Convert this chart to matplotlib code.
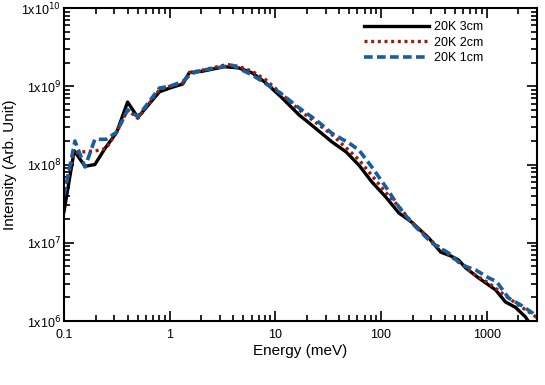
import numpy as np
import matplotlib.pyplot as plt
from matplotlib.ticker import FixedLocator, LogLocator, NullFormatter

plt.rcParams['font.family'] = ['Liberation Sans', 'DejaVu Sans']

# 20K 3cm
e_3cm = [0.1, 0.125, 0.158, 0.196, 0.244, 0.316, 0.4, 0.5, 0.8, 1.0, 1.33, 1.54,
         2.0, 3.3, 4.5, 6.07, 8.2, 11.6, 16.8, 20.9, 34.5, 46.8, 62, 82, 111, 148,
         195, 284, 368, 457, 545, 631, 841, 1216, 1510, 1870, 2330, 2500, 2800]
i_3cm = [2.5e7, 1.5e8, 9.5e7, 1.0e8, 1.6e8, 2.6e8, 6.3e8, 4.0e8, 8.5e8, 9.5e8, 1.07e9, 1.5e9,
         1.55e9, 1.78e9, 1.72e9, 1.48e9, 1.1e9, 7.1e8, 4.3e8, 3.4e8, 1.94e8, 1.45e8, 9.8e7, 6.0e7, 3.85e7, 2.4e7,
         1.84e7, 1.15e7, 7.6e6, 6.8e6, 6.0e6, 4.8e6, 3.55e6, 2.5e6, 1.75e6, 1.5e6, 1.13e6, 9.8e5, 7e5]

# 20K 2cm
e_2cm = [0.1, 0.125, 0.15, 0.2, 0.25, 0.316, 0.4, 0.5, 0.8, 1.0, 1.33, 1.54,
         2.0, 3.5, 4.5, 6.07, 8.2, 16.8, 34.5, 62, 111, 148, 195, 302, 408, 470,
         630, 725, 1050, 1510, 2000, 2760, 3000]
i_2cm = [4.7e7, 1.4e8, 1.45e8, 1.5e8, 1.6e8, 2.6e8, 5.0e8, 3.9e8, 9.0e8, 1.0e9, 1.1e9, 1.5e9,
         1.6e9, 1.9e9, 1.8e9, 1.55e9, 1.2e9, 5.0e8, 2.4e8, 1.15e8, 4.4e7, 2.9e7,
         1.85e7, 1.05e7, 7.6e6, 6.5e6, 5.0e6, 4.1e6, 3.05e6, 2.1e6, 1.6e6, 1.2e6, 1.1e6]

# 20K 1cm
e_1cm = [0.1, 0.127, 0.158, 0.196, 0.25, 0.316, 0.4, 0.5, 0.8, 1.0, 1.33, 1.6,
         2.0, 3.9, 6.07, 10.9, 16.8, 24.4, 34.5, 50, 62, 82, 111, 148, 195, 302,
         437, 580, 787, 1050, 1240, 1620, 2140, 2760, 3000]
i_1cm = [4.0e7, 2.0e8, 9.3e7, 2.1e8, 2.1e8, 2.6e8, 5.0e8, 4.1e8, 9.5e8, 1.0e9, 1.15e9, 1.45e9,
         1.6e9, 1.86e9, 1.39e9, 8.4e8, 5.3e8, 3.7e8, 2.5e8, 1.88e8, 1.53e8, 9.3e7, 5.2e7, 2.87e7,
         1.8e7, 1.0e7, 7.4e6, 5.2e6, 4.5e6, 3.55e6, 3.2e6, 1.96e6, 1.58e6, 1.25e6, 1.1e6]

x_ticks = [0.1, 1, 10, 100, 1000]
x_labels = ['0.1', '1', '10', '100', '1000']
y_ticks = [1e6, 1e7, 1e8, 1e9, 1e10]
y_labels = [r'1x10$^{%d}$' % p for p in range(6, 11)]

fig = plt.figure(figsize=(5.45, 3.85), dpi=100)
ax = fig.add_axes([0.1174, 0.1662, 0.8679, 0.8128])

ax.plot(e_3cm, i_3cm, color='black', lw=2.4, label='20K 3cm')
ax.plot(e_2cm, i_2cm, color='#9e1a0e', lw=2.4, ls=(0, (0.9, 1.1)), label='20K 2cm')
ax.plot(e_1cm, i_1cm, color='#165e9e', lw=2.6, ls=(0, (2.4, 1.2)), label='20K 1cm')

ax.set_xscale('log')
ax.set_yscale('log')
ax.set_xlim(0.1, 3000)
ax.set_ylim(1e6, 1e10)

ax.xaxis.set_major_locator(FixedLocator(x_ticks))
ax.set_xticklabels(x_labels)
ax.yaxis.set_major_locator(FixedLocator(y_ticks))
ax.set_yticklabels(y_labels)
ax.xaxis.set_minor_locator(LogLocator(base=10, subs=np.arange(2, 10)))
ax.yaxis.set_minor_locator(LogLocator(base=10, subs=np.arange(2, 10)))
ax.xaxis.set_minor_formatter(NullFormatter())
ax.yaxis.set_minor_formatter(NullFormatter())

ax.tick_params(which='both', direction='in', top=True, right=True, labelsize=9, width=1.2)
ax.tick_params(which='major', length=7)
ax.tick_params(which='minor', length=4)
ax.tick_params(axis='y', pad=2)
ax.tick_params(axis='x', pad=6)
for s in ax.spines.values():
    s.set_linewidth(1.5)

ax.set_xlabel('Energy (meV)', fontsize=11, labelpad=2)
ax.set_ylabel('Intensity (Arb. Unit)', fontsize=11, labelpad=3)

ax.legend(loc='upper right', frameon=False, fontsize=9, handlelength=5.2,
          handletextpad=0.4, bbox_to_anchor=(0.91, 0.995), labelspacing=0.3)

fig.savefig('out.png', dpi=100)
